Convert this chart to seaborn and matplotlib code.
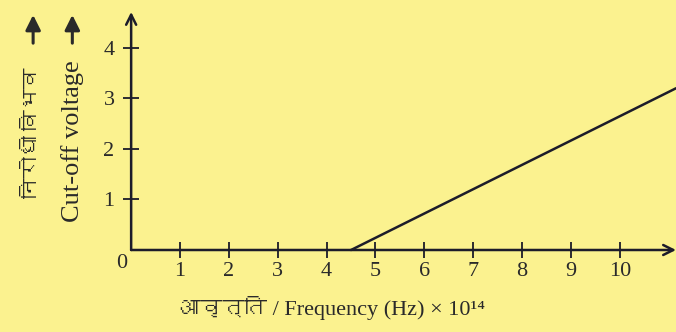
import numpy as np
import pandas as pd
import matplotlib
matplotlib.use("Agg")
import matplotlib.pyplot as plt
from matplotlib import font_manager
from matplotlib.ft2font import FT2Font
import seaborn as sns

# values
frequency = [4.5, 11.15]      # x 10^14 Hz
cutoff_voltage = [0.0, 3.2]   # V
x_ticks = [1, 2, 3, 4, 5, 6, 7, 8, 9, 10]
y_ticks = [1, 2, 3, 4]

bg = "#fbf28f"
ink = "#1c1c2a"
txt = "#2a2a2a"

# look for any installed family that has Devanagari glyphs
deva = []
for f in font_manager.fontManager.ttflist:
    try:
        cmap = FT2Font(f.fname).get_charmap()
    except Exception:
        continue
    if 0x0928 in cmap and f.name not in deva:
        deva.append(f.name)

sns.set_style("ticks", {"axes.facecolor": bg, "figure.facecolor": bg})
plt.rcParams["font.family"] = ["Liberation Serif"] + deva + ["DejaVu Sans"]

df = pd.DataFrame({"freq": frequency, "volt": cutoff_voltage})

fig = plt.figure(figsize=(6.76, 3.32), dpi=100)
ax = fig.add_axes([0.194, 0.247, 0.806, 0.717])

sns.lineplot(data=df, x="freq", y="volt", color=ink, lw=1.8, ax=ax, clip_on=False)

ax.set_xlim(0, 11.15)
ax.set_ylim(0, 4.71)
ax.set_xticks(x_ticks)
ax.set_yticks(y_ticks)
ax.tick_params(direction="inout", length=12, width=1.3, color=ink,
               labelsize=16, labelcolor=txt)
ax.tick_params(axis="y", pad=6)
ax.tick_params(axis="x", pad=3)
ax.set_xlabel("")
ax.set_ylabel("")

for s in ax.spines.values():
    s.set_visible(False)

# axes drawn as arrows
arrow = dict(arrowstyle="->", color=ink, lw=1.8, mutation_scale=18,
             shrinkA=0, shrinkB=0)
ax.annotate("", xy=(1.0, 0), xytext=(0, 0), xycoords="axes fraction",
            arrowprops=arrow)
ax.annotate("", xy=(0, 1.0), xytext=(0, 0), xycoords="axes fraction",
            arrowprops=arrow)

ax.text(-0.017, -0.055, "0", transform=ax.transAxes, fontsize=16,
        color=txt, ha="center", va="center")

# y label, two languages, each with an up arrow above
fig.text(0.107, 0.575, "Cut-off voltage", rotation=90, fontsize=19,
         color=txt, ha="center", va="center")
fig.text(0.049, 0.60, "निरोधी विभव", rotation=90, fontsize=15,
         color=txt, ha="center", va="center")
up = dict(arrowstyle="-|>,head_length=0.5,head_width=0.25", color=txt, lw=2.2,
          mutation_scale=18, shrinkA=0, shrinkB=0)
for xf in [0.049, 0.107]:
    fig.add_artist(plt.matplotlib.patches.FancyArrowPatch(
        (xf, 0.87), (xf, 0.955), transform=fig.transFigure, **up))

fig.text(0.49, 0.072, "आवृत्ति / Frequency (Hz) \u00d7 10\u00b9\u2074", fontsize=16,
         color=txt, ha="center", va="center")

fig.savefig("out.png", dpi=100, facecolor=bg)
